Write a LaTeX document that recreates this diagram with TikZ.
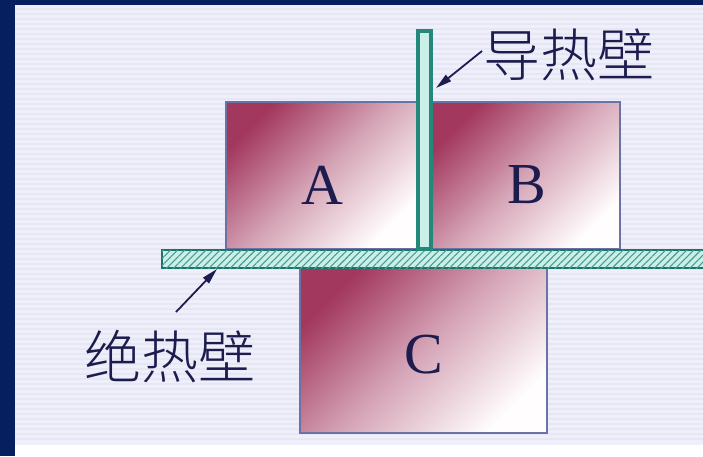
\documentclass[tikz,border=0pt]{standalone}
\usepackage{fontspec}
\setmainfont{Liberation Serif}
\newfontfamily\cjk{Noto Sans CJK SC Light}
\usetikzlibrary{patterns.meta,arrows.meta}
\definecolor{navy}{HTML}{06205F}
\definecolor{lav}{HTML}{EFEEFB}
\definecolor{stripe}{HTML}{E7E7F4}
\definecolor{mag}{HTML}{A3385F}
\definecolor{boxline}{HTML}{6A72A6}
\definecolor{teal}{HTML}{23877A}
\definecolor{cyanl}{HTML}{CBEFE8}
\definecolor{ink}{HTML}{1C1C4E}
\tikzset{
  box/.style={draw=boxline, line width=1.4pt, top color=mag, bottom color=white!97!pink,
    middle color=mag!45!white, shading angle=45, inner sep=0pt},
  wallv/.style={draw=teal, line width=3.4pt, fill=cyanl, inner sep=0pt},
  plate/.style={draw=teal!85!black, line width=1.2pt, fill=cyanl,
    postaction={pattern={Lines[angle=45,distance=5pt,line width=1.1pt]}, pattern color=teal!80!cyanl}, inner sep=0pt},
  letter/.style={text=ink, font=\fontsize{58}{58}\selectfont},
  cjklabel/.style={text=ink, font=\cjk\fontsize{57}{57}\selectfont, inner sep=0pt},
  arr/.style={draw=ink, line width=1.8pt, arrows={-Triangle[length=16pt,width=8pt]}}
}
\begin{document}
\begin{tikzpicture}[x=1pt,y=-1pt]
\useasboundingbox (0,0) rectangle (703,456);
% background
\fill[navy] (0,0) rectangle (703,456);
\fill[lav] (15,5) rectangle (703,445);
\fill[white] (15,445) rectangle (703,456);
\foreach \yy in {9,14,...,441} \draw[stripe, line width=1.2pt] (15,\yy) -- (703,\yy);
% boxes
\node[box, minimum width=191pt, minimum height=147pt] (boxA) at (321.5,175.5) {};
\node[box, minimum width=188pt, minimum height=147pt] (boxB) at (526,175.5) {};
\node[box, minimum width=247pt, minimum height=165pt] (boxC) at (423.5,350.5) {};
% plate and wall
\node[plate, minimum width=545pt, minimum height=18pt] (plate) at (434.5,259) {};
\node[wallv, minimum width=13pt, minimum height=218pt] (wall) at (424.5,140) {};
% letters
\node[letter] (labA) at (322,185) {A};
\node[letter] (labB) at (527,185) {B};
\node[letter] (labC) at (424,355) {C};
% labels
\node[cjklabel] (cond) at (569,55) {导热壁};
\node[cjklabel] (adia) at (170,357) {绝热壁};
\coordinate (condtip) at (436,88);
\coordinate (condstart) at (482,51);
\coordinate (adiatip) at (217,269);
\coordinate (adiastart) at (176,312);
\draw[arr] (condstart) -- (condtip);
\draw[arr] (adiastart) -- (adiatip);
\end{tikzpicture}
\end{document}
